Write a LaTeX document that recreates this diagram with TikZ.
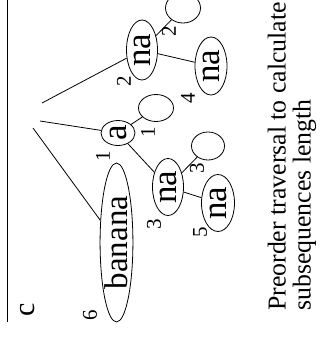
\documentclass[tikz,border=0pt]{standalone}
\usepackage{fontspec}
\setmainfont{Liberation Serif}
\usetikzlibrary{shapes.geometric}
\begin{document}
\begin{tikzpicture}[x=1pt,y=-1pt,
  oval/.style={draw, ellipse, rotate=90, inner sep=0pt, line width=0.8pt},
  word/.style={font=\fontsize{35}{35}\selectfont},
  num/.style={rotate=90, inner sep=0pt, font=\fontsize{21}{21}\selectfont},
  edge/.style={line width=0.8pt}]
\useasboundingbox (0,0) rectangle (327,338);
\fill[white] (0,0) rectangle (327,338);

% frame line on the left
\draw[line width=1pt] (7,0) -- (7,322);
\node[rotate=90, inner sep=0pt, font=\fontsize{30}{30}\selectfont] (lc) at (28,310) {c};

% suffix tree nodes
\node[oval, minimum width=159pt, minimum height=31pt, font=\fontsize{33}{33}\selectfont] (banana) at (116.5,242.5) {banana};
\node[oval, word, minimum width=25pt, minimum height=34pt] (a) at (118,133) {a};
\node[oval, minimum width=27pt, minimum height=35pt] (ea) at (156,108) {};
\node[oval, word, minimum width=60pt, minimum height=31pt] (naT) at (142,50) {na};
\node[oval, minimum width=30pt, minimum height=35pt] (eT) at (183,8) {};
\node[oval, word, minimum width=58pt, minimum height=32pt] (naR) at (211,66) {na};
\node[oval, word, minimum width=57pt, minimum height=31pt] (naM) at (168,187) {na};
\node[oval, minimum width=28pt, minimum height=33pt] (eM) at (208,146) {};
\node[oval, word, minimum width=57pt, minimum height=33pt] (naB) at (218,203) {na};

% loose ends of the root branches
\coordinate (rN) at (42,103);
\coordinate (rA) at (40,121);
\coordinate (rB) at (33,128);

\draw[edge] (rN) -- (naT);
\draw[edge] (rA) -- (a);
\draw[edge] (rB) -- (banana);
\draw[edge] (a) -- (ea);
\draw[edge] (a) -- (naM);
\draw[edge] (naM) -- (eM);
\draw[edge] (naM) -- (naB);
\draw[edge] (naT) -- (eT);
\draw[edge] (naT) -- (naR);

% subsequence lengths
\node[num] (n6) at (90,315) {6};
\node[num] (n1a) at (103,156) {1};
\node[num] (n1b) at (148,132) {1};
\node[num] (n2a) at (124,81) {2};
\node[num] (n2b) at (169,31) {2};
\node[num] (n4) at (188,98) {4};
\node[num] (n3a) at (197,168) {3};
\node[num] (n3b) at (154,224) {3};
\node[num] (n5) at (200,232) {5};

% caption
\node[rotate=90, anchor=west, inner sep=0pt, align=left,
      font=\fontsize{25.8}{25}\selectfont] (cap) at (292,311)
  {Preorder traversal to calculate\\subsequences length};
\end{tikzpicture}
\end{document}
